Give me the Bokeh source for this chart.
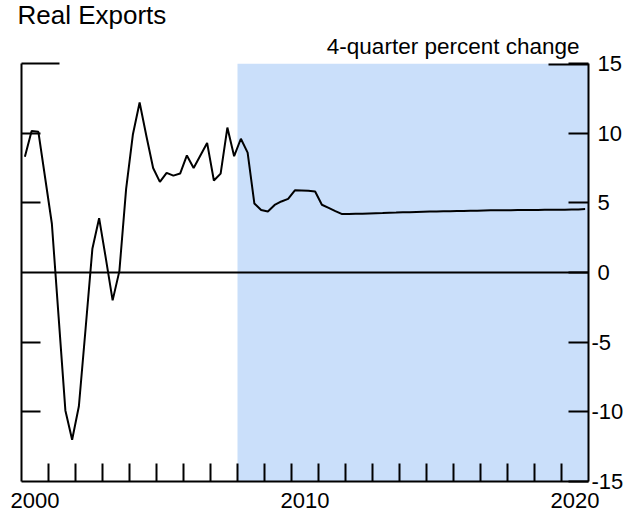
from bokeh.plotting import figure
from bokeh.models import FixedTicker, LinearAxis, Range1d, Span, BoxAnnotation, Title
from bokeh.embed import file_html
from bokeh.resources import INLINE

# ---- data ----
years = list(range(2000, 2021))
quarters = [1, 2, 3, 4]
export_growth = [
    8.3, 10.15, 10.1, 6.8,      # 2000
    3.5, -3.2, -9.9, -12.0,     # 2001
    -9.6, -4.0, 1.7, 3.9,       # 2002
    1.0, -2.0, 0.1, 6.0,        # 2003
    9.9, 12.2, 9.8, 7.5,        # 2004
    6.5, 7.15, 6.95, 7.1,       # 2005
    8.4, 7.5, 8.4, 9.3,         # 2006
    6.6, 7.1, 10.4, 8.35,       # 2007
    9.6, 8.6, 4.95, 4.48,       # 2008
    4.38, 4.85, 5.1, 5.28,      # 2009
    5.9, 5.88, 5.86, 5.81,      # 2010
    4.86, 4.64, 4.41, 4.19,     # 2011
    4.2, 4.21, 4.22, 4.24,      # 2012
    4.26, 4.27, 4.29, 4.3,      # 2013
    4.32, 4.33, 4.35, 4.36,     # 2014
    4.37, 4.38, 4.39, 4.4,      # 2015
    4.41, 4.42, 4.43, 4.44,     # 2016
    4.45, 4.46, 4.46, 4.47,     # 2017
    4.47, 4.48, 4.48, 4.49,     # 2018
    4.49, 4.5, 4.5, 4.51,       # 2019
    4.51, 4.52, 4.53, 4.55,     # 2020
]
label_years = [2000, 2010, 2020]
y_ticks = [-15, -10, -5, 0, 5, 10, 15]
forecast_start = 2008.0
x_start, x_end = 2000, 2021
y_start, y_end = -15, 15

title_text = "Real Exports"
units_text = "4-quarter percent change"

# ---- derived ----
qx = [y + (q - 0.5) / 4 for y in years for q in quarters]

FONT = "Liberation Sans"
FW, FH = 567, 418
px_per_year = FW / (x_end - x_start)

p = figure(frame_width=FW, frame_height=FH,
           x_range=Range1d(x_start, x_end), y_range=Range1d(y_start, y_end),
           output_backend="svg", toolbar_location=None, title_location=None,
           x_axis_location=None, y_axis_location=None,
           min_border_left=21, min_border_top=62, min_border_right=5, min_border_bottom=35,
           background_fill_color="white", border_fill_color="white")
p.outline_line_color = None
p.xgrid.visible = False
p.ygrid.visible = False

# shaded projection period
p.add_layout(BoxAnnotation(left=forecast_start, fill_color="#cadffa", fill_alpha=1.0,
                           line_color=None, level="underlay"))

# zero line
p.add_layout(Span(location=0, dimension="width", line_color="black", line_width=2))

# series
p.line(qx, export_growth, line_color="black", line_width=2)

# left axis (no labels)
left_ticks = [t for t in y_ticks if t not in (y_start, 0, y_end)]
la = LinearAxis(ticker=FixedTicker(ticks=[y_end], minor_ticks=left_ticks),
                major_tick_in=38, major_tick_out=0, minor_tick_in=19, minor_tick_out=0,
                major_tick_line_width=2, minor_tick_line_width=2, axis_line_width=2,
                major_label_text_font_size="0px", major_label_standoff=0,
                major_label_overrides={y_end: ""})
p.add_layout(la, "left")

# right axis with labels
def fmt(v):
    return str(v) if v < 0 else "\u00a0" + str(v)

ra = LinearAxis(ticker=FixedTicker(ticks=y_ticks),
                major_tick_in=20, major_tick_out=0, minor_tick_in=0, minor_tick_out=0,
                major_tick_line_width=2, axis_line_width=2,
                major_label_standoff=3, major_label_text_font=FONT,
                major_label_text_font_size="22px", major_label_text_color="black",
                major_label_overrides={t: fmt(t) for t in y_ticks})
p.add_layout(ra, "right")

# top-right long tick at 15
p.segment(x0=[x_end - 40 / px_per_year], y0=[y_end], x1=[x_end], y1=[y_end],
          line_color="black", line_width=4)

# bottom axis: minor ticks at year boundaries, labels at mid-year
ba = LinearAxis(ticker=FixedTicker(ticks=[y + 0.5 for y in label_years], minor_ticks=years[1:]),
                major_tick_in=0, major_tick_out=0, minor_tick_in=18, minor_tick_out=0,
                minor_tick_line_width=2, axis_line_width=2,
                major_label_standoff=11, major_label_text_font=FONT,
                major_label_text_font_size="22px", major_label_text_color="black",
                major_label_overrides={y + 0.5: str(y) for y in label_years})
p.add_layout(ba, "below")

# texts (first added = closest to the frame)
p.add_layout(Title(text=units_text, align="right", offset=9, standoff=9,
                   text_font=FONT, text_font_size="22.5px", text_font_style="normal",
                   text_color="black"), "above")
p.add_layout(Title(text=title_text, align="left", offset=-4, standoff=-5,
                   text_font=FONT, text_font_size="26px", text_font_style="normal",
                   text_color="black"), "above")

open("out.html", "w").write(file_html(p, INLINE))
